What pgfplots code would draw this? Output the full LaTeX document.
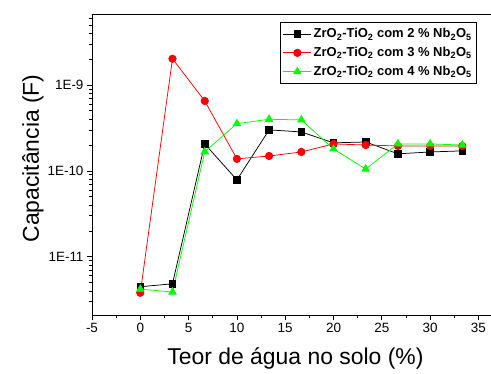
\documentclass[border=0pt]{standalone}
\usepackage{pgfplots}
\pgfplotsset{compat=1.18}
\usepackage{fontspec}
\setmainfont{Liberation Sans}
\definecolor{myred}{RGB}{255,0,0}
\definecolor{mygreen}{RGB}{0,255,0}
\begin{document}
\begin{tikzpicture}
\useasboundingbox (0,0) rectangle (491bp,374bp);
\begin{axis}[
  at={(92bp,59bp)}, anchor=south west,
  scale only axis, width=399bp, height=301bp,
  xmin=-5, xmax=36.3,
  ymode=log, ymin=2.1e-12, ymax=6.7e-9,
  axis x line*=box, axis y line*=left,
  axis line style={line width=0.9pt},
  xtick={-5,0,5,10,15,20,25,30,35},
  minor x tick num=1,
  ytick={1e-11,1e-10,1e-9},
  yticklabels={1E-11,1E-10,1E-9},
  minor ytick={3e-12,4e-12,5e-12,6e-12,7e-12,8e-12,9e-12,
    2e-11,3e-11,4e-11,5e-11,6e-11,7e-11,8e-11,9e-11,
    2e-10,3e-10,4e-10,5e-10,6e-10,7e-10,8e-10,9e-10,
    2e-9,3e-9,4e-9,5e-9,6e-9},
  tick align=outside,
  xtick pos=bottom, ytick pos=left,
  major tick length=5bp, minor tick length=3bp,
  tick style={black, line width=0.7pt},
  /pgf/number format/assume math mode=true,
  ticklabel style={font=\fontsize{13.5}{16}\selectfont},
  xlabel={Teor de água no solo (\%)},
  ylabel={Capacitância (F)},
  xlabel style={font=\fontsize{23}{26}\selectfont, at={(axis description cs:0.51,-0.143)}, anchor=center},
  ylabel style={font=\fontsize{23}{26}\selectfont, at={(axis description cs:-0.148,0.52)}, anchor=center},
  legend style={at={(0.965,0.973)}, anchor=north east, draw=black, line width=0.8pt,
    font=\fontsize{13}{15}\bfseries\selectfont, row sep=4bp, inner xsep=3pt, inner ysep=4bp},
  legend cell align=left,
  legend image code/.code={\draw[mark repeat=2,mark phase=2,line width=0.75pt] plot coordinates {(0bp,0bp) (14bp,0bp) (28bp,0bp)};},
]
\addplot[black, line width=0.75pt, mark=square*, mark size=3.3bp, mark options={solid, fill=black}] coordinates {
 (0,4.48e-12) (3.33,4.85e-12) (6.67,2.06e-10) (10,7.85e-11) (13.33,3.0e-10) (16.67,2.84e-10)
 (20,2.12e-10) (23.33,2.17e-10) (26.67,1.58e-10) (30,1.66e-10) (33.33,1.71e-10)};
\addlegendentry{ZrO\textsubscript{2}-TiO\textsubscript{2} com 2 \% Nb\textsubscript{2}O\textsubscript{5}}
\addplot[myred, line width=0.75pt, mark=*, mark size=3.7bp, mark options={solid, fill=myred}] coordinates {
 (0,3.81e-12) (3.33,2.02e-9) (6.67,6.52e-10) (10,1.38e-10) (13.33,1.49e-10) (16.67,1.66e-10)
 (20,2.06e-10) (23.33,2.0e-10) (26.67,1.95e-10) (30,1.95e-10) (33.33,1.95e-10)};
\addlegendentry{ZrO\textsubscript{2}-TiO\textsubscript{2} com 3 \% Nb\textsubscript{2}O\textsubscript{5}}
\addplot[mygreen, line width=0.75pt, mark=triangle*, mark size=4.3bp, mark options={solid, fill=mygreen}] coordinates {
 (0,4.2e-12) (3.33,3.89e-12) (6.67,1.67e-10) (10,3.55e-10) (13.33,3.99e-10) (16.67,3.92e-10)
 (20,1.80e-10) (23.33,1.05e-10) (26.67,2.06e-10) (30,2.06e-10) (33.33,2.0e-10)};
\addlegendentry{ZrO\textsubscript{2}-TiO\textsubscript{2} com 4 \% Nb\textsubscript{2}O\textsubscript{5}}
\end{axis}
\end{tikzpicture}
\end{document}
